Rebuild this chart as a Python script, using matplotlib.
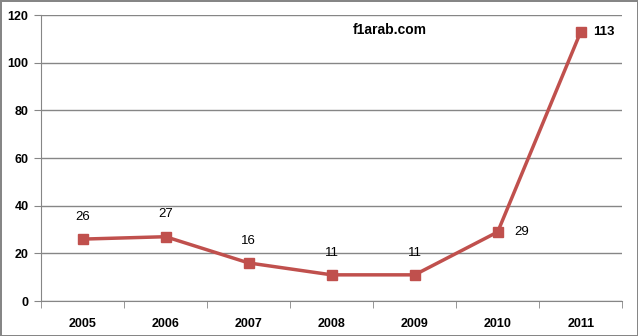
import matplotlib
matplotlib.use("Agg")
from matplotlib import pyplot as plt

years = ["2005", "2006", "2007", "2008", "2009", "2010", "2011"]
values = [26, 27, 16, 11, 11, 29, 113]
label_side = ["top", "top", "top", "top", "top", "right", "right"]
label_bold = [False, False, False, False, False, False, True]

plt.rcParams['font.family'] = ['Liberation Sans', 'DejaVu Sans']

fig = plt.figure(figsize=(6.38, 3.36), dpi=100)
fig.patch.set_edgecolor("#868686")
fig.patch.set_linewidth(2)
ax = fig.add_axes([0.0643, 0.104, 0.911, 0.851])

x = list(range(len(years)))
ax.plot(x, values, color="#C0504D", lw=2.5, marker="s", ms=7, zorder=3)

for xi, v, side, b in zip(x, values, label_side, label_bold):
    off = (0, 16) if side == "top" else (17, 0)
    ax.annotate(str(v), (xi, v), xytext=off, textcoords="offset points",
                ha="center", va="center", fontsize=9.5,
                fontweight="bold" if b else "normal")

ax.text(0.60, 0.948, "f1arab.com", transform=ax.transAxes, ha="center",
        va="center", fontsize=10, fontweight="bold")

ax.set_xlim(-0.5, len(years) - 0.5)
ax.set_ylim(0, 120)
ax.set_yticks(range(0, 121, 20))
ax.set_xticks(x)
ax.set_xticklabels(years, fontweight="bold", fontsize=9)
for lbl in ax.get_yticklabels():
    lbl.set_fontweight("bold")
    lbl.set_fontsize(9)
ax.set_xticks([i - 0.5 for i in range(len(years) + 1)], minor=True)
ax.tick_params(axis="x", which="major", length=0, pad=12)
ax.tick_params(axis="x", which="minor", length=5, color="#868686")
ax.tick_params(axis="y", length=5, color="#868686", pad=4)

ax.grid(axis="y", color="#868686", lw=1)
ax.set_axisbelow(True)
for s in ["top", "right"]:
    ax.spines[s].set_visible(False)
for s in ["left", "bottom"]:
    ax.spines[s].set_color("#868686")

fig.savefig("out.png", dpi=100, edgecolor=fig.get_edgecolor())
